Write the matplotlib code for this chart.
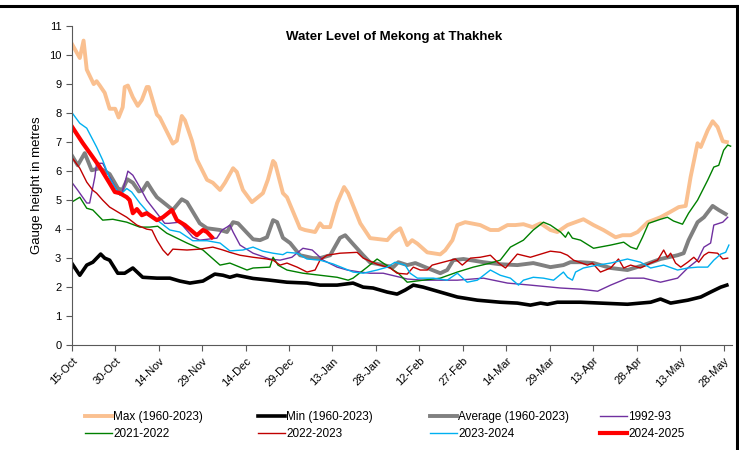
import matplotlib.pyplot as plt
from matplotlib.lines import Line2D

# x = days since 15-Oct
tick_days = [0, 15, 30, 45, 60, 75, 90, 105, 120, 135, 150, 165, 180, 195, 210, 225]
tick_labels = ['15-Oct', '30-Oct', '14-Nov', '29-Nov', '14-Dec', '29-Dec', '13-Jan', '28-Jan',
               '12-Feb', '27-Feb', '14-Mar', '29-Mar', '13-Apr', '28-Apr', '13-May', '28-May']

max_days = [0, 2.8, 4.1, 5.2, 7.6, 8.6, 9.7, 11.4, 13.1, 15, 16.2, 17.6, 18.3, 19.4, 21.1, 22.8, 24.2,
            25.9, 26.6, 29.4, 30.4, 34.9, 36.3, 38, 39.1, 41.5, 43.2, 46.7, 48.7, 51.2, 52.9, 55.7,
            57, 59.1, 62.2, 66, 67.7, 69.5, 70.2, 72.9, 74.3, 78.8, 80.5, 84, 85.7, 86.8, 89.2, 91.6,
            94, 95.4, 99.6, 103, 108.9, 111, 113.4, 115.8, 117.5, 119.3, 122.7, 127.2, 128.9, 131.4,
            133.1, 135.8, 141, 144.5, 147.3, 150.4, 153.1, 155.9, 159, 161.8, 165.2, 167.6, 171.1,
            176.6, 180.1, 183.5, 187.7, 190.1, 192.9, 195.3, 198.8, 203.2, 206.7, 209.5, 211.9,
            213.6, 216, 217.1, 219.5, 221.2, 222.9, 224.7, 226.1]
max_vals = [10.4, 9.9, 10.5, 9.5, 9.0, 9.1, 8.95, 8.7, 8.15, 8.15, 7.85, 8.2, 8.9, 8.95, 8.55, 8.25, 8.45,
            8.9, 8.9, 7.95, 7.85, 6.95, 7.05, 7.9, 7.75, 7.05, 6.4, 5.7, 5.6, 5.35, 5.6, 6.1,
            5.97, 5.35, 4.93, 5.24, 5.7, 6.35, 6.27, 5.24, 5.1, 4.03, 3.97, 3.9, 4.2, 4.07, 4.07, 4.9,
            5.45, 5.24, 4.2, 3.69, 3.62, 3.86, 4.03, 3.45, 3.62, 3.5, 3.2, 3.13, 3.27, 3.62,
            4.14, 4.24, 4.14, 3.97, 3.97, 4.14, 4.14, 4.17, 4.07, 4.2, 3.97, 3.9, 4.14,
            4.34, 4.14, 3.97, 3.72, 3.79, 3.79, 3.9, 4.24, 4.41, 4.6, 4.76, 4.8,
            5.8, 6.96, 6.83, 7.41, 7.72, 7.52, 7.03, 7.0]

min_days = [0, 2.8, 5.2, 7.3, 10, 11.4, 13.1, 15.9, 18.3, 21.1, 24.5, 29.4, 33.9, 37.3, 40.8, 45.3,
            49.4, 52.2, 54.6, 57, 62.6, 68.4, 74.3, 81.2, 85.7, 91.6, 97.1, 100.6, 104, 108.9, 112.3,
            115.1, 117.9, 121.3, 127.2, 133.1, 140, 147.9, 153.8, 158.3, 161.8, 164.2, 167.6, 172.1,
            175.6, 182.5, 191.8, 196.3, 199.8, 203.2, 206.7, 212.6, 217.1, 220.5, 224, 226.1]
min_vals = [2.83, 2.41, 2.76, 2.86, 3.14, 3.0, 2.93, 2.48, 2.48, 2.66, 2.34, 2.31, 2.31, 2.21, 2.14, 2.21,
            2.45, 2.41, 2.34, 2.41, 2.3, 2.24, 2.17, 2.14, 2.07, 2.07, 2.14, 2.0, 1.97, 1.83, 1.76,
            1.9, 2.07, 2.0, 1.83, 1.66, 1.55, 1.48, 1.45, 1.38, 1.45, 1.41, 1.48, 1.48,
            1.48, 1.45, 1.41, 1.45, 1.48, 1.59, 1.45, 1.55, 1.66, 1.83, 2.0, 2.07]

avg_days = [0, 2.1, 4.5, 6.9, 9.7, 13.1, 16, 17.5, 19.2, 21.1, 23.2, 24.5, 26.1, 28, 29.4, 32.8, 34.9,
            38, 39.8, 44.2, 46.7, 51.2, 53.6, 55.7, 57.4, 62.6, 65, 67.4, 69.5, 70.9, 72.9, 75.4,
            78.8, 83.3, 85.7, 89.2, 92.6, 94.4, 96.8, 100.6, 103, 107.5, 111, 112.7, 115.8, 118.6,
            122.7, 127.2, 129.6, 131.7, 135.2, 142.1, 147.9, 153.8, 159.3, 165.2, 169.7, 172.1,
            175.6, 180.1, 186, 191.8, 197.4, 203.2, 209.1, 211.2, 212.9, 216, 218.2, 221.2, 223.3, 225.7]
avg_vals = [6.55, 6.2, 6.62, 6.03, 6.1, 5.9, 5.4, 5.35, 5.72, 5.6, 5.3, 5.34, 5.6, 5.3, 5.1, 4.83, 4.66,
            5.03, 4.93, 4.2, 4.03, 3.97, 3.9, 4.24, 4.2, 3.65, 3.62, 3.72, 4.31, 4.24, 3.7, 3.52,
            3.1, 3.0, 3.0, 3.1, 3.7, 3.79, 3.52, 3.1, 2.85, 2.76, 2.69, 2.86, 2.76, 2.83,
            2.66, 2.48, 2.59, 2.93, 2.97, 2.86, 2.79, 2.76, 2.83, 2.69, 2.76, 2.86,
            2.86, 2.83, 2.66, 2.59, 2.76, 2.97, 3.1, 3.17, 3.62, 4.24, 4.41, 4.8, 4.66, 4.52]

y1992_days = [0, 2.1, 5.2, 6.2, 8, 8.6, 10.7, 13.1, 15.6, 17.3, 18.3, 19.4, 21.1, 23.5, 25.9, 29.4, 32.1,
              33.5, 37.3, 41.8, 44.2, 50.1, 51.9, 53.6, 54.6, 55.7, 58.1, 62.6, 68.4, 71.9, 76, 79.8,
              83, 86.8, 91.6, 95.1, 99.6, 103, 107.5, 113.4, 115.8, 121.3, 133.1, 142.1, 150.4, 158.3,
              168.7, 175.6, 181.5, 186, 191.8, 197.4, 203.2, 209.1, 212.6, 216, 218.2, 220.5, 221.6,
              224.7, 226.4]
y1992_vals = [5.62, 5.34, 4.9, 4.9, 5.8, 6.27, 6.27, 5.8, 5.34, 5.24, 5.58, 6.0, 5.86, 5.45, 5.0, 4.55, 4.2,
              4.2, 4.24, 3.72, 3.62, 3.69, 3.97, 4.07, 4.14, 3.9, 3.45, 3.17, 2.97, 2.93, 3.03, 3.34,
              3.28, 2.93, 2.69, 2.59, 2.52, 2.48, 2.48, 2.34, 2.28, 2.24, 2.24, 2.31, 2.14, 2.07,
              1.97, 1.93, 1.86, 2.07, 2.31, 2.31, 2.17, 2.31, 2.66, 2.93, 3.38, 3.52, 4.14,
              4.24, 4.41]

y2021_days = [0, 2.8, 5.2, 7.3, 10.7, 14.2, 19, 23.5, 27, 29.7, 32.8, 39.8, 45.3, 51.2, 54.6, 60.5, 62.6,
              68.4, 69.5, 71.2, 74.3, 79.8, 85.7, 91.6, 95.4, 97.1, 102, 105.4, 107.5, 111, 112.7, 115.8,
              121.3, 127.2, 133.1, 138.6, 144.5, 147.9, 151.4, 155.9, 159.3, 162.8, 165.2, 168.7, 170.4,
              171.4, 172.8, 175.6, 180.1, 186, 190.5, 192.9, 195, 197, 199.1, 203.2, 205.6, 207.7,
              210.8, 212.9, 216, 219.5, 221.6, 223.3, 225, 226.4, 227.4]
y2021_vals = [4.93, 5.1, 4.72, 4.66, 4.31, 4.34, 4.24, 4.07, 4.07, 4.1, 3.86, 3.52, 3.28, 2.76, 2.83, 2.59, 2.66,
              2.69, 3.03, 2.76, 2.59, 2.48, 2.41, 2.34, 2.24, 2.31, 2.69, 2.97, 2.83, 2.59, 2.48, 2.17,
              2.24, 2.31, 2.52, 2.69, 2.83, 2.93, 3.38, 3.62, 3.97, 4.24, 4.14, 3.9, 3.72,
              3.9, 3.69, 3.62, 3.34, 3.45, 3.55, 3.38, 3.31, 3.72, 4.2, 4.34, 4.41, 4.28,
              4.17, 4.55, 5.0, 5.69, 6.14, 6.2, 6.72, 6.9, 6.86]

y2022_days = [0, 2.8, 5.2, 7.3, 8.6, 10.7, 13.1, 16.6, 19, 22.5, 25.9, 27.7, 29.4, 31.5, 33.2, 34.9, 39.8,
              44.2, 48.7, 52.2, 54.6, 58.1, 62.6, 67.4, 69.5, 71.9, 74.3, 77.8, 81.2, 84, 85.7, 88.1,
              92.6, 98.5, 100.6, 105.4, 109.9, 112.3, 115.8, 117.9, 120.3, 122.7, 124.4, 128.2, 132.4,
              134.8, 137.6, 141, 144.5, 147.3, 149.7, 153.8, 158.3, 165.2, 168.7, 171.1, 173.2, 178,
              179.7, 182.5, 186, 188.7, 190.5, 192.9, 196.3, 199.8, 202.2, 204.3, 205.6, 206.7, 208.4,
              210.2, 212.6, 214.7, 216.4, 218.2, 219.8, 222.9, 224.7, 226.4]
y2022_vals = [6.48, 6.1, 5.62, 5.34, 5.24, 5.0, 4.76, 4.55, 4.41, 4.14, 4.0, 3.97, 3.62, 3.28, 3.1, 3.31, 3.28,
              3.31, 3.38, 3.28, 3.2, 3.1, 3.03, 2.97, 2.93, 2.76, 2.83, 2.69, 2.52, 2.59, 2.93, 3.1,
              3.17, 3.2, 3.0, 2.79, 2.66, 2.48, 2.45, 2.69, 2.59, 2.59, 2.76, 2.86, 2.97,
              2.76, 3.0, 3.03, 3.1, 2.83, 2.66, 3.14, 3.03, 3.24, 3.2, 3.1, 2.93, 2.76,
              2.83, 2.52, 2.66, 2.97, 2.66, 2.76, 2.66, 2.83, 2.93, 3.28, 3.03, 3.17, 2.83,
              2.69, 2.86, 3.03, 2.86, 3.1, 3.2, 3.17, 2.97, 3.0]

y2023_days = [0, 2.8, 5.2, 8.6, 10.7, 13.1, 15.6, 16.6, 19, 20.7, 23.5, 27, 30.4, 33.9, 37.3, 41.8, 46.7,
              51.2, 54.6, 59.1, 62.6, 66, 69.5, 72.9, 74.3, 77.8, 81.2, 85.7, 90.2, 93.7, 97.1, 100.6,
              105.4, 108.9, 111.6, 115.1, 116.8, 119.3, 124.8, 129.6, 133.1, 136.5, 140, 144.5, 147.9,
              151.4, 154.2, 155.9, 159.3, 162.8, 166.3, 169.7, 171.1, 172.8, 173.9, 176.6, 181.5, 186,
              191.8, 196.3, 199.8, 204.3, 209.1, 212.6, 216, 219.5, 221.6, 224, 225.7, 226.8]
y2023_vals = [8.03, 7.65, 7.48, 6.83, 6.38, 5.75, 5.34, 5.17, 5.4, 5.28, 4.9, 4.5, 4.24, 3.97, 3.9, 3.6, 3.6,
              3.52, 3.25, 3.28, 3.38, 3.24, 3.17, 3.12, 3.2, 3.17, 2.97, 2.93, 2.8, 2.66, 2.52, 2.48,
              2.59, 2.69, 2.86, 2.76, 2.48, 2.31, 2.31, 2.24, 2.48, 2.17, 2.24, 2.59, 2.41,
              2.31, 2.07, 2.24, 2.34, 2.31, 2.24, 2.52, 2.34, 2.24, 2.52, 2.66, 2.76, 2.83,
              2.97, 2.86, 2.66, 2.76, 2.59, 2.66, 2.69, 2.69, 2.93, 3.14, 3.2, 3.45]

y2024_days = [0, 3.8, 7.3, 9.7, 13.1, 14.9, 16.6, 19, 20, 21.1, 22.5, 24.2, 25.9, 29.4, 31.5, 34.6, 36.3,
              39.1, 43.2, 45.3, 46.7, 48.4]
y2024_vals = [7.55, 6.97, 6.48, 6.14, 5.58, 5.28, 5.24, 5.1, 5.0, 4.55, 4.69, 4.48, 4.55, 4.31, 4.41, 4.66, 4.31,
              4.14, 3.79, 3.97, 3.9, 3.72]

plt.rcParams['font.family'] = ['Liberation Sans', 'DejaVu Sans']
fig = plt.figure(figsize=(7.39, 4.5), dpi=100)
ax = fig.add_axes([0.097, 0.233, 0.894, 0.709])

ax.plot(max_days, max_vals, color='#FAC090', lw=2.8, label='Max (1960-2023)')
ax.plot(min_days, min_vals, color='black', lw=2.6, label='Min (1960-2023)')
ax.plot(avg_days, avg_vals, color='#808080', lw=2.8, label='Average (1960-2023)')
ax.plot(y1992_days, y1992_vals, color='#7030A0', lw=1.0, label='1992-93')
ax.plot(y2021_days, y2021_vals, color='#008000', lw=1.0, label='2021-2022')
ax.plot(y2022_days, y2022_vals, color='#C00000', lw=1.0, label='2022-2023')
ax.plot(y2023_days, y2023_vals, color='#00B0F0', lw=1.0, label='2023-2024')
ax.plot(y2024_days, y2024_vals, color='#FF0000', lw=3.0, label='2024-2025')

ax.set_xlim(0, 228)
ax.set_ylim(0, 11)
ax.set_yticks(range(12))
ax.set_xticks(tick_days)
ax.set_xticklabels(tick_labels, rotation=45, ha='right', rotation_mode='anchor')
ax.tick_params(labelsize=8, direction='out', length=4, color='#595959')
for s in ['top', 'right']:
    ax.spines[s].set_visible(False)
for s in ['left', 'bottom']:
    ax.spines[s].set_color('#595959')
ax.set_ylabel('Gauge height in metres', fontsize=9.5)
ax.text(0.488, 0.985, 'Water Level of Mekong at Thakhek', transform=ax.transAxes,
        ha='center', va='top', fontsize=9.5, fontweight='bold')

# legend, 4 fixed-width columns
h, l = ax.get_legend_handles_labels()
col_x = [85, 258, 430, 600]
for i, x in enumerate(col_x):
    leg = fig.legend([h[i], h[i + 4]], [l[i], l[i + 4]], loc='upper left',
                     bbox_to_anchor=(x / 739, 1 - 411 / 450), frameon=False,
                     prop={'size': 8.5},
                     handlelength=2.3, handletextpad=0.1, labelspacing=0.45,
                     borderaxespad=0, borderpad=0)

# frame around chart (top and right visible)
fig.add_artist(Line2D([0, 737 / 739], [1 - 6 / 450, 1 - 6 / 450], color='black', lw=2.2))
fig.add_artist(Line2D([737 / 739, 737 / 739], [0, 1 - 6 / 450], color='black', lw=2.2))

fig.savefig('out.png', dpi=100)
